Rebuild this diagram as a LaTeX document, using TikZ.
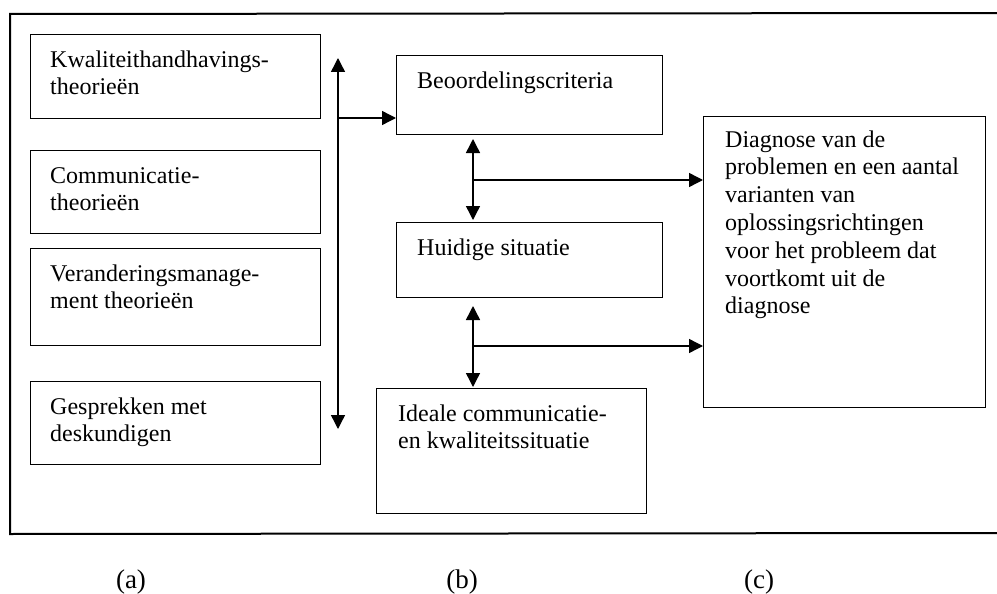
\documentclass[tikz,border=0pt]{standalone}
\usepackage{fontspec}
\setmainfont{Liberation Serif}
\usetikzlibrary{arrows.meta}
\begin{document}
\begin{tikzpicture}[x=1pt,y=-1pt,
  boxnode/.style={draw, line width=1.4pt, inner sep=0pt, anchor=north west},
  txt/.style={inner sep=0pt, anchor=north west, align=left, font=\fontsize{24}{27.8}\selectfont},
  lbl/.style={inner sep=0pt, anchor=base, font=\fontsize{27}{30}\selectfont},
  conn/.style={line width=1.4pt, -{Triangle[length=14pt,width=14pt]}},
  dconn/.style={line width=1.4pt, {Triangle[length=14pt,width=14pt]}-{Triangle[length=14pt,width=14pt]}}]
\useasboundingbox (0,0) rectangle (997,594);
% outer frame (right side outside the picture)
\draw[line width=2pt] (1000,13) -- (10,14) -- (10,534) -- (1000,533);
% column (a)
\node[boxnode, minimum width=290pt, minimum height=84pt] (K) at (30,34) {};
\node[boxnode, minimum width=290pt, minimum height=83pt] (C) at (30,150) {};
\node[boxnode, minimum width=290pt, minimum height=97pt] (V) at (30,248) {};
\node[boxnode, minimum width=290pt, minimum height=83pt] (G) at (30,381) {};
\node[txt] (tK) at ([xshift=20pt,yshift=-13.5pt]K.north west) {\strut Kwaliteithandhavings-\\theorieën};
\node[txt] (tC) at ([xshift=20pt,yshift=-13.5pt]C.north west) {\strut Communicatie-\\theorieën};
\node[txt] (tV) at ([xshift=20pt,yshift=-13.5pt]V.north west) {\strut Veranderingsmanage-\\ment theorieën};
\node[txt] (tG) at ([xshift=20pt,yshift=-13.5pt]G.north west) {\strut Gesprekken met\\deskundigen};
% column (b)
\node[boxnode, minimum width=266pt, minimum height=79pt] (B) at (396,55) {};
\node[boxnode, minimum width=266pt, minimum height=75pt] (H) at (396,222) {};
\node[boxnode, minimum width=270pt, minimum height=125pt] (I) at (376,388) {};
\node[txt] (tB) at ([xshift=21pt,yshift=-13.5pt]B.north west) {\strut Beoordelingscriteria};
\node[txt] (tH) at ([xshift=21pt,yshift=-13.5pt]H.north west) {\strut Huidige situatie};
\node[txt] (tI) at ([xshift=22pt,yshift=-13.5pt]I.north west) {\strut Ideale communicatie-\\en kwaliteitssituatie};
% column (c)
\node[boxnode, minimum width=282pt, minimum height=291pt] (D) at (703,116) {};
\node[txt] (tD) at ([xshift=22pt,yshift=-11.5pt]D.north west) {\strut Diagnose van de\\problemen en een aantal\\varianten van\\oplossingsrichtingen\\voor het probleem dat\\voortkomt uit de\\diagnose};
% connectors
\coordinate (vt) at (338,58);
\coordinate (vb) at (338,429);
\coordinate (vm) at (338,118);
\draw[dconn] (vt) -- (vb);
\draw[conn] (vm) -- (vm -| B.west);
\coordinate (bh1) at (473,139);
\coordinate (bh2) at (473,220);
\coordinate (bhm) at (473,180);
\draw[dconn] (bh1) -- (bh2);
\draw[conn] (bhm) -- (bhm -| D.west);
\coordinate (hi1) at (473,306);
\coordinate (hi2) at (473,387);
\coordinate (him) at (473,346);
\draw[dconn] (hi1) -- (hi2);
\draw[conn] (him) -- (him -| D.west);
% labels
\node[lbl] (la) at (131,588) {(a)};
\node[lbl] (lb) at (462,588) {(b)};
\node[lbl] (lc) at (759,588) {(c)};
\end{tikzpicture}
\end{document}
